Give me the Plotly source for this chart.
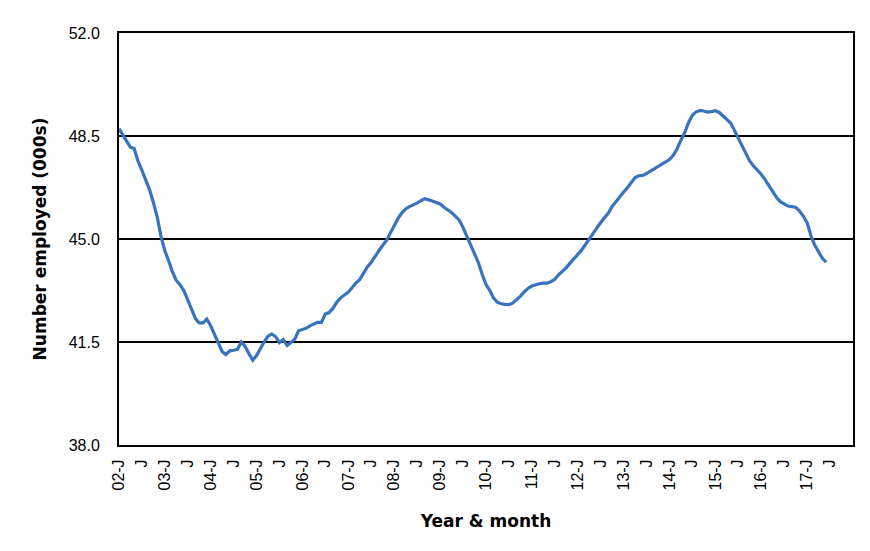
import pandas as pd
import plotly.graph_objects as go

# Monthly employment (000s), Jan 2002 through Jun 2017
months = pd.date_range("2002-01-01", periods=186, freq="MS")
employed = [
    48.75, 48.55, 48.35, 48.12, 48.08, 47.65, 47.35, 47.00, 46.68, 46.25, 45.75, 45.10,
    44.60, 44.25, 43.90, 43.60, 43.45, 43.25, 42.95, 42.60, 42.30, 42.15, 42.15, 42.28,
    42.05, 41.75, 41.45, 41.18, 41.07, 41.20, 41.22, 41.25, 41.50, 41.35, 41.10, 40.88,
    41.05, 41.30, 41.50, 41.70, 41.77, 41.68, 41.48, 41.58, 41.38, 41.48, 41.60, 41.88,
    41.92, 41.97, 42.05, 42.12, 42.17, 42.17, 42.45, 42.50, 42.65, 42.85, 43.00, 43.10,
    43.20, 43.35, 43.50, 43.62, 43.85, 44.05, 44.20, 44.42, 44.60, 44.78, 44.95, 45.20,
    45.48, 45.70, 45.88, 46.02, 46.10, 46.15, 46.22, 46.30, 46.37, 46.33, 46.28, 46.24,
    46.19, 46.08, 46.00, 45.90, 45.78, 45.65, 45.40, 45.10, 44.80, 44.55, 44.20, 43.80,
    43.45, 43.25, 43.00, 42.85, 42.80, 42.78, 42.77, 42.82, 42.92, 43.05, 43.20, 43.32,
    43.40, 43.45, 43.48, 43.50, 43.50, 43.55, 43.62, 43.78, 43.90, 44.02, 44.18, 44.32,
    44.45, 44.62, 44.80, 44.98, 45.15, 45.37, 45.55, 45.70, 45.88, 46.10, 46.28, 46.42,
    46.60, 46.75, 46.90, 47.08, 47.15, 47.16, 47.22, 47.30, 47.37, 47.45, 47.52, 47.60,
    47.70, 47.85, 48.05, 48.35, 48.60, 48.95, 49.20, 49.32, 49.37, 49.35, 49.31, 49.33,
    49.36, 49.30, 49.20, 49.08, 48.95, 48.70, 48.45, 48.20, 47.92, 47.65, 47.48, 47.35,
    47.20, 47.02, 46.82, 46.62, 46.42, 46.27, 46.18, 46.12, 46.10, 46.08, 45.95, 45.78,
    45.55, 45.10, 44.80, 44.55, 44.35, 44.21,
]

tick_dates = pd.date_range("2002-01-01", "2017-07-01", freq="6MS")
tick_labels = [
    "02-J", "J", "03-J", "J", "04-J", "J", "05-J", "J", "06-J", "J", "07-J", "J",
    "08-J", "J", "09-J", "J", "10-J", "J", "11-J", "J", "12-J", "J", "13-J", "J",
    "14-J", "J", "15-J", "J", "16-J", "J", "17-J", "J",
]
y_ticks = [38.0, 41.5, 45.0, 48.5, 52.0]

title_font = dict(family="DejaVu Sans, sans-serif", size=17, color="black")
tick_font = dict(family="Liberation Sans, Arial, sans-serif", size=16, color="black")

fig = go.Figure()
fig.add_trace(
    go.Scatter(
        x=months,
        y=employed,
        mode="lines",
        line=dict(color="#3873be", width=3.2),
        hoverinfo="skip",
    )
)

fig.update_layout(
    width=870,
    height=551,
    margin=dict(l=111, r=25, t=25, b=114),
    paper_bgcolor="white",
    plot_bgcolor="white",
    showlegend=False,
    font=dict(family="Liberation Sans, Arial, sans-serif", color="black"),
)

fig.update_xaxes(
    type="date",
    range=["2002-01-01", "2018-01-01"],
    tickvals=tick_dates,
    ticktext=tick_labels,
    tickangle=-90,
    tickfont=tick_font,
    ticklabelstandoff=6,
    showgrid=False,
    showline=True,
    linecolor="black",
    linewidth=2,
    mirror=True,
    ticks="",
    title=dict(text="<b>Year & month</b>", font=title_font, standoff=26),
)

fig.update_yaxes(
    range=[38, 52],
    tickvals=y_ticks,
    tickformat=".1f",
    tickfont=tick_font,
    showgrid=True,
    gridcolor="black",
    gridwidth=2,
    showline=True,
    linecolor="black",
    linewidth=2,
    mirror=True,
    zeroline=False,
    ticks="",
    ticklabelstandoff=14,
    title=dict(text="<b>Number employed (000s)</b>", font=title_font, standoff=18),
)

fig.write_html("out.html")
